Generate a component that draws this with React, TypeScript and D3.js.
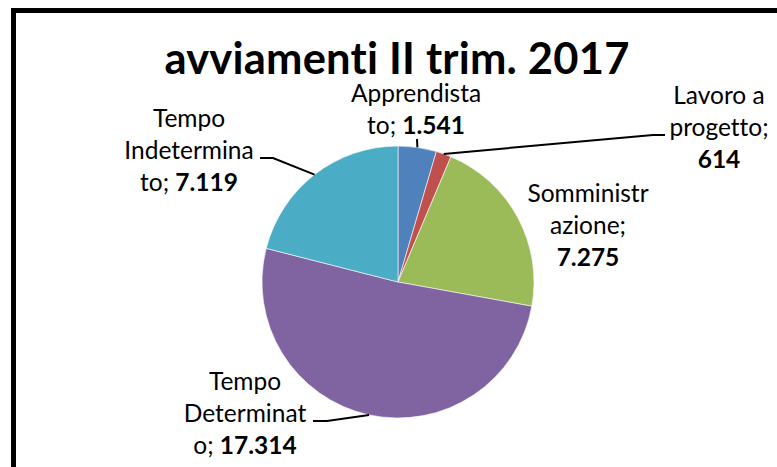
import * as d3 from 'd3';

// Avviamenti II trim. 2017, by contract type
const categories = [
  'Apprendistato',
  'Lavoro a progetto',
  'Somministrazione',
  'Tempo Determinato',
  'Tempo Indeterminato',
];
const values = [1541, 614, 7275, 17314, 7119];
const colors = ['#4F81BD', '#C0504D', '#9BBB59', '#8064A2', '#4BACC6'];

// how Excel wrapped each category name; `valueOwnLine` puts the number on its own row
const nameWraps = [
  ['Apprendista', 'to;'],
  ['Lavoro a', 'progetto;'],
  ['Somministr', 'azione;'],
  ['Tempo', 'Determinat', 'o;'],
  ['Tempo', 'Indetermina', 'to;'],
];
const valueOwnLine = [false, true, true, false, false];

const title = 'avviamenti II trim. 2017';

const W = 777;
const H = 467;
const cx = 398;
const cy = 282;
const radius = 136;
const lineGap = 32;

// label block (center x, first baseline) and leader bend points, relative to pie center
const labelPos: [number, number][] = [
  [18, -180],
  [321, -178],
  [190, -80],
  [-153, 108],
  [-209, -155],
];
const leaders: ([number, number][] | null)[] = [
  [[19, -143]],
  [[255, -147], [267, -147]],
  null,
  [[-71, 139], [-85, 139]],
  [[-125, -124], [-138, -124]],
];

const it = d3.formatLocale({ decimal: ',', thousands: '.', grouping: [3], currency: ['€', ''] });
const fmt = it.format(',d');

export default function App() {
  const pie = d3
    .pie<number>()
    .sort(null)
    .value((d) => d);
  const arcs = pie(values);
  const arc = d3.arc<d3.PieArcDatum<number>>().innerRadius(0).outerRadius(radius);
  const edge = d3.arc<d3.PieArcDatum<number>>().innerRadius(radius).outerRadius(radius);
  const font = 'Lato, Calibri, sans-serif';
  const noLig = { fontVariantLigatures: 'none' as const, fontFeatureSettings: '"liga" 0, "clig" 0, "dlig" 0' };

  return (
    <svg
      width={W}
      height={H}
      style={{ position: 'absolute', left: 0, top: 0, background: '#fff' }}
    >
      <rect x={13.5} y={10.5} width={W + 20} height={H + 20} fill="#fff" stroke="#000" strokeWidth={5} />
      <text
        x={397}
        y={74}
        textAnchor="middle"
        fontFamily={font}
        fontWeight="bold"
        fontSize={43.5}
        letterSpacing={0.2}
        fill="#000"
        style={noLig}
      >
        {title}
      </text>
      <g transform={`translate(${cx},${cy})`}>
        {arcs.map((a, i) => (
          <path key={categories[i]} d={arc(a) ?? ''} fill={colors[i]} stroke="#fff" strokeWidth={0.6} />
        ))}
        {arcs.map((a, i) => {
          const pts = leaders[i];
          if (!pts) return null;
          const start = edge.centroid(a);
          const line = d3.line()([start, ...pts]);
          return <path key={'l' + i} d={line ?? ''} fill="none" stroke="#000" strokeWidth={2} />;
        })}
        {categories.map((c, i) => {
          const [lx, ly] = labelPos[i];
          const wrap = nameWraps[i];
          const v = fmt(values[i]);
          const rows = valueOwnLine[i] ? [...wrap, ''] : wrap;
          return (
            <text key={c} textAnchor="middle" fontFamily={font} fontSize={24.5} fill="#000" style={noLig}>
              {rows.map((r, j) => {
                const last = j === rows.length - 1;
                return (
                  <tspan key={j} x={lx} y={ly + j * lineGap}>
                    {r}
                    {last && !valueOwnLine[i] ? ' ' : ''}
                    {last ? <tspan fontWeight="bold">{v}</tspan> : null}
                  </tspan>
                );
              })}
            </text>
          );
        })}
      </g>
    </svg>
  );
}
